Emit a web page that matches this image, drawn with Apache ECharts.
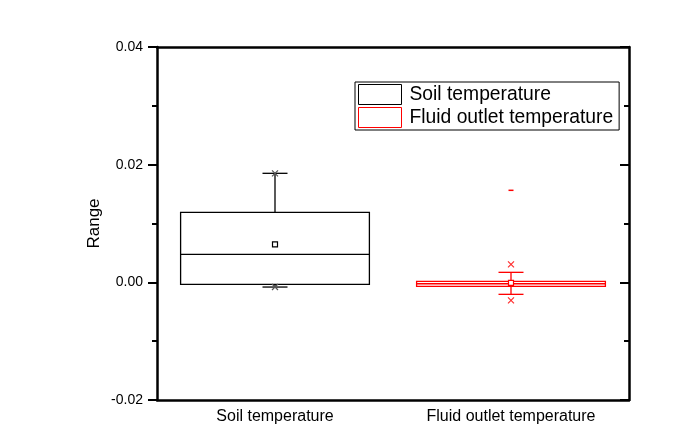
<!DOCTYPE html>
<html>
<head>
<meta charset="utf-8">
<script src="https://cdn.jsdelivr.net/npm/echarts@6/dist/echarts.min.js"></script>
<style>html,body{margin:0;padding:0;background:#fff;}#c{width:673px;height:448px;}</style>
</head>
<body>
<div id="c"></div>
<script>
// ---- data ----
var categories = ['Soil temperature', 'Fluid outlet temperature'];
var seriesNames = ['Soil temperature', 'Fluid outlet temperature'];
var seriesColors = ['#000000', '#ff0000'];
// [whiskerLow, q1, median, q3, whiskerHigh]
var soilBox  = [-0.0008, -0.00034, 0.00476, 0.0119, 0.01853];
var fluidBox = [-0.00204, -0.00068, -0.00024, 0.00017, 0.0017];
var soilMean = 0.00646;
var fluidMean = -0.0001;
// 1% / 99% markers (x)
var soilPct  = [-0.0008, 0.01853];
var fluidPct = [-0.00306, 0.00306];
// max marker (-)
var fluidMax = [0.01564];
var yTicks = [-0.02, 0.00, 0.02, 0.04];

var FONT = 'Liberation Sans, Arial, sans-serif';

function boxRender(color) {
  return function (params, api) {
    var c = api.value(0);
    var lo = api.coord([c, api.value(1)]);
    var q1 = api.coord([c, api.value(2)]);
    var md = api.coord([c, api.value(3)]);
    var q3 = api.coord([c, api.value(4)]);
    var hi = api.coord([c, api.value(5)]);
    var bw = api.size([1, 0])[0] * 0.8;
    var cap = 25;
    var x = lo[0];
    var st = {stroke: color, lineWidth: 1.3, fill: null};
    return {
      type: 'group',
      children: [
        {type: 'line', shape: {x1: x, y1: hi[1], x2: x, y2: q3[1]}, style: st},
        {type: 'line', shape: {x1: x, y1: q1[1], x2: x, y2: lo[1]}, style: st},
        {type: 'line', shape: {x1: x - cap / 2, y1: hi[1], x2: x + cap / 2, y2: hi[1]}, style: st},
        {type: 'line', shape: {x1: x - cap / 2, y1: lo[1], x2: x + cap / 2, y2: lo[1]}, style: st},
        {type: 'rect', shape: {x: x - bw / 2, y: q3[1], width: bw, height: q1[1] - q3[1]}, style: {stroke: color, lineWidth: 1.3, fill: 'rgba(255,255,255,0)'}},
        {type: 'line', shape: {x1: x - bw / 2, y1: md[1], x2: x + bw / 2, y2: md[1]}, style: st}
      ]
    };
  };
}

var xPath = 'path://M0,0L10,10M10,0L0,10';

var chart = echarts.init(document.getElementById('c'), null, {renderer: 'canvas'});
chart.setOption({
  animation: false,
  backgroundColor: '#fff',
  textStyle: {fontFamily: FONT},
  grid: {left: 157, right: 44, top: 47, bottom: 48},
  legend: {
    orient: 'vertical',
    left: 355, top: 82,
    padding: [2, 6, 2, 3],
    borderColor: '#000', borderWidth: 1,
    itemWidth: 43, itemHeight: 20, itemGap: 2,
    textStyle: {fontSize: 19.3, color: '#000', fontFamily: FONT, padding: [0, 0, 0, 3]},
    data: [
      {name: seriesNames[0], icon: 'rect', itemStyle: {color: '#fff', borderColor: seriesColors[0], borderWidth: 1}},
      {name: seriesNames[1], icon: 'rect', itemStyle: {color: '#fff', borderColor: seriesColors[1], borderWidth: 1}}
    ]
  },
  xAxis: [{
    type: 'category', data: categories, position: 'bottom', boundaryGap: true,
    axisLine: {onZero: false, lineStyle: {color: '#000', width: 2.5}},
    axisTick: {alignWithLabel: true, length: 7, lineStyle: {width: 2.5, color: '#000'}},
    axisLabel: {color: '#000', fontSize: 16, fontFamily: FONT, margin: 9}
  }, {
    type: 'category', data: categories, position: 'top', boundaryGap: true,
    axisLine: {onZero: false, lineStyle: {color: '#000', width: 2.5}},
    axisTick: {alignWithLabel: true, inside: true, length: 4, lineStyle: {width: 2, color: '#000'}},
    axisLabel: {show: false}
  }],
  yAxis: [{
    type: 'value', min: yTicks[0], max: yTicks[yTicks.length - 1], interval: 0.02,
    name: 'Range', nameLocation: 'middle', nameRotate: 90, nameGap: 54, nameMoveOverlap: false,
    nameTextStyle: {fontSize: 17, color: '#000', fontFamily: FONT},
    axisLine: {show: true, onZero: false, lineStyle: {color: '#000', width: 2.5}},
    axisTick: {show: true, length: 9, lineStyle: {width: 2, color: '#000'}},
    minorTick: {show: true, splitNumber: 2, length: 5, lineStyle: {width: 2, color: '#000'}},
    splitLine: {show: false},
    axisLabel: {color: '#000', fontSize: 14, fontFamily: FONT, margin: 14,
      formatter: function (v) { return v.toFixed(2); }}
  }, {
    type: 'value', min: yTicks[0], max: yTicks[yTicks.length - 1], interval: 0.02, position: 'right',
    axisLine: {show: true, onZero: false, lineStyle: {color: '#000', width: 2.5}},
    axisTick: {show: true, inside: true, length: 9, lineStyle: {width: 2, color: '#000'}},
    minorTick: {show: true, splitNumber: 2, length: 5, lineStyle: {width: 2, color: '#000'}},
    splitLine: {show: false},
    axisLabel: {show: false}
  }],
  series: [
    {
      name: seriesNames[0], type: 'custom', renderItem: boxRender(seriesColors[0]),
      encode: {x: 0, y: [1, 2, 3, 4, 5]},
      itemStyle: {color: '#fff', borderColor: seriesColors[0]},
      data: [[0].concat(soilBox)], z: 2
    },
    {
      name: seriesNames[1], type: 'custom', renderItem: boxRender(seriesColors[1]),
      encode: {x: 0, y: [1, 2, 3, 4, 5]},
      itemStyle: {color: '#fff', borderColor: seriesColors[1]},
      data: [[1].concat(fluidBox)], z: 2
    },
    {
      name: 'soilMean', type: 'scatter', symbol: 'rect', symbolSize: 5, z: 5,
      itemStyle: {color: '#fff', borderColor: '#000', borderWidth: 1.2, opacity: 1},
      data: [[0, soilMean]]
    },
    {
      name: 'fluidMean', type: 'scatter', symbol: 'rect', symbolSize: 5, z: 5,
      itemStyle: {color: '#fff', borderColor: '#ff0000', borderWidth: 1.2, opacity: 1},
      data: [[1, fluidMean]]
    },
    {
      name: 'soilPct', type: 'scatter', symbol: xPath, symbolSize: 6, z: 5,
      itemStyle: {color: 'none', borderColor: '#555', borderWidth: 1.2, opacity: 1},
      data: soilPct.map(function (v) { return [0, v]; })
    },
    {
      name: 'fluidPct', type: 'scatter', symbol: xPath, symbolSize: 6, z: 5,
      itemStyle: {color: 'none', borderColor: '#ff3030', borderWidth: 1.2, opacity: 1},
      data: fluidPct.map(function (v) { return [1, v]; })
    },
    {
      name: 'fluidMax', type: 'scatter', symbol: 'rect', symbolSize: [5, 1.5], z: 5,
      itemStyle: {color: '#ff0000', opacity: 1},
      data: fluidMax.map(function (v) { return [1, v]; })
    }
  ]
});
</script>
</body>
</html>
